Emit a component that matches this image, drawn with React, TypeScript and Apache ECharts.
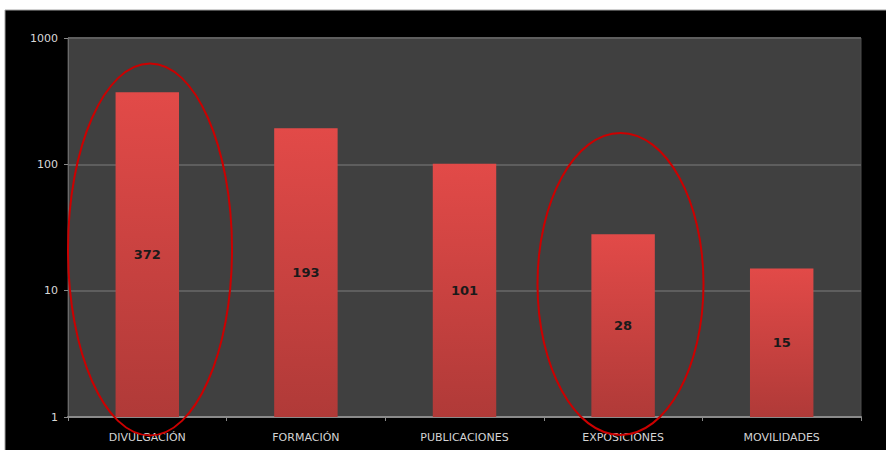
import React, { useEffect, useRef } from "react";
import * as echarts from "echarts";

const categories = ["DIVULGACIÓN", "FORMACIÓN", "PUBLICACIONES", "EXPOSICIONES", "MOVILIDADES"];
const values = [372, 193, 101, 28, 15];

export default function App() {
  const ref = useRef<HTMLDivElement>(null);
  useEffect(() => {
    if (!ref.current) return;
    const chart = echarts.init(ref.current, undefined, { renderer: "svg" });
    chart.setOption({
      animation: false,
      backgroundColor: "#ffffff",
      textStyle: { fontFamily: "DejaVu Sans" },
      graphic: [
        {
          type: "rect",
          z: -10,
          silent: true,
          shape: { x: 5, y: 10, width: 900, height: 460 },
          style: { fill: "#000000", stroke: "#a0a0a0", lineWidth: 1 },
        },
        {
          type: "ellipse",
          z: 100,
          shape: { cx: 150, cy: 249.5, rx: 82, ry: 186 },
          style: { fill: "none", stroke: "#cc0000", lineWidth: 2 },
        },
        {
          type: "ellipse",
          z: 100,
          shape: { cx: 620.5, cy: 284, rx: 83, ry: 151 },
          style: { fill: "none", stroke: "#cc0000", lineWidth: 2 },
        },
      ],
      grid: {
        left: 68,
        right: 25,
        top: 38,
        bottom: 33,
        show: true,
        backgroundColor: "#404040",
        borderColor: "#4c4c4c",
        borderWidth: 1,
      },
      xAxis: {
        type: "category",
        data: categories,
        axisLine: { show: true, lineStyle: { color: "#8a8a8a", width: 2 } },
        axisTick: { show: true, length: 4, lineStyle: { color: "#8a8a8a" } },
        axisLabel: { color: "#d4d4d4", fontSize: 11, margin: 15, interval: 0 },
        splitLine: { show: false },
      },
      yAxis: {
        type: "log",
        logBase: 10,
        min: 1,
        max: 1000,
        axisLine: { show: true, lineStyle: { color: "#6a6a6a", width: 1 } },
        axisTick: { show: true, length: 4, lineStyle: { color: "#8a8a8a" } },
        axisLabel: {
          color: "#d8d8d8",
          fontSize: 11,
          margin: 10,
          formatter: (v: number) => String(Math.round(v)),
        },
        splitLine: { show: true, lineStyle: { color: "#5e5e5e", width: 2 } },
        minorTick: { show: false },
      },
      series: [
        {
          type: "bar",
          data: values,
          barCategoryGap: "60%",
          itemStyle: {
            color: new echarts.graphic.LinearGradient(0, 0, 0, 1, [
              { offset: 0, color: "#e24a48" },
              { offset: 1, color: "#b03a38" },
            ]),
          },
          label: {
            show: true,
            position: "inside",
            color: "#1a1a1a",
            fontWeight: "bold",
            fontSize: 13,
          },
        },
      ],
    });
    return () => chart.dispose();
  }, []);
  return (
    <div
      ref={ref}
      style={{ position: "absolute", left: 0, top: 0, width: 886, height: 450 }}
    />
  );
}
